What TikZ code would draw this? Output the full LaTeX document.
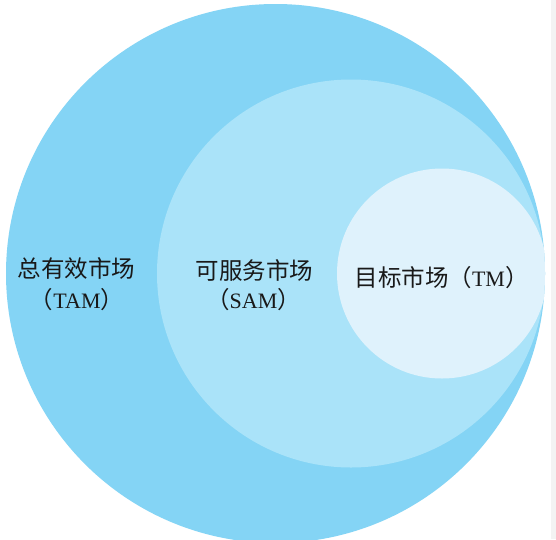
\documentclass[tikz,border=0pt]{standalone}
\usepackage{fontspec}
\setmainfont{Liberation Serif}
\newfontfamily\cjk{Noto Sans CJK SC}
\definecolor{tamblue}{RGB}{132,212,245}
\definecolor{samblue}{RGB}{170,227,249}
\definecolor{tmblue}{RGB}{223,242,252}
\definecolor{txt}{RGB}{25,25,25}
\definecolor{stripgray}{RGB}{243,243,243}
\tikzset{
  lbl/.style={text=txt, inner sep=0pt, align=center, font=\fontsize{22}{30}\selectfont},
  circfill/.style={draw=none}
}
\newcommand{\cj}[1]{{\cjk\fontsize{23.5}{30}\selectfont #1}}
\begin{document}
\begin{tikzpicture}[x=1pt,y=-1pt]
\useasboundingbox (0,0) rectangle (556,539);
\fill[white] (0,0) rectangle (556,539);
\fill[stripgray] (551,0) rectangle (556,539);
\fill[tamblue,circfill] (275.5,273.5) circle[radius=269.5pt];
\begin{scope}
  \clip (275.5,273.5) circle[radius=269.5pt];
  \fill[samblue,circfill] (351,273.5) circle[radius=194pt];
  \fill[tmblue,circfill] (442,273.5) circle[radius=105pt];
\end{scope}
\node[lbl] (tam1) at (76.5,269) {\cj{总有效市场}};
\node[lbl] (tam2) at (77,300) {\cj{（}TAM\cj{）}};
\node[lbl] (sam1) at (254.5,270.5) {\cj{可服务市场}};
\node[lbl] (sam2) at (253.5,300) {\cj{（}SAM\cj{）}};
\node[lbl] (tm) at (441.5,277.5) {\cj{目标市场（}TM\cj{）}};
\end{tikzpicture}
\end{document}
